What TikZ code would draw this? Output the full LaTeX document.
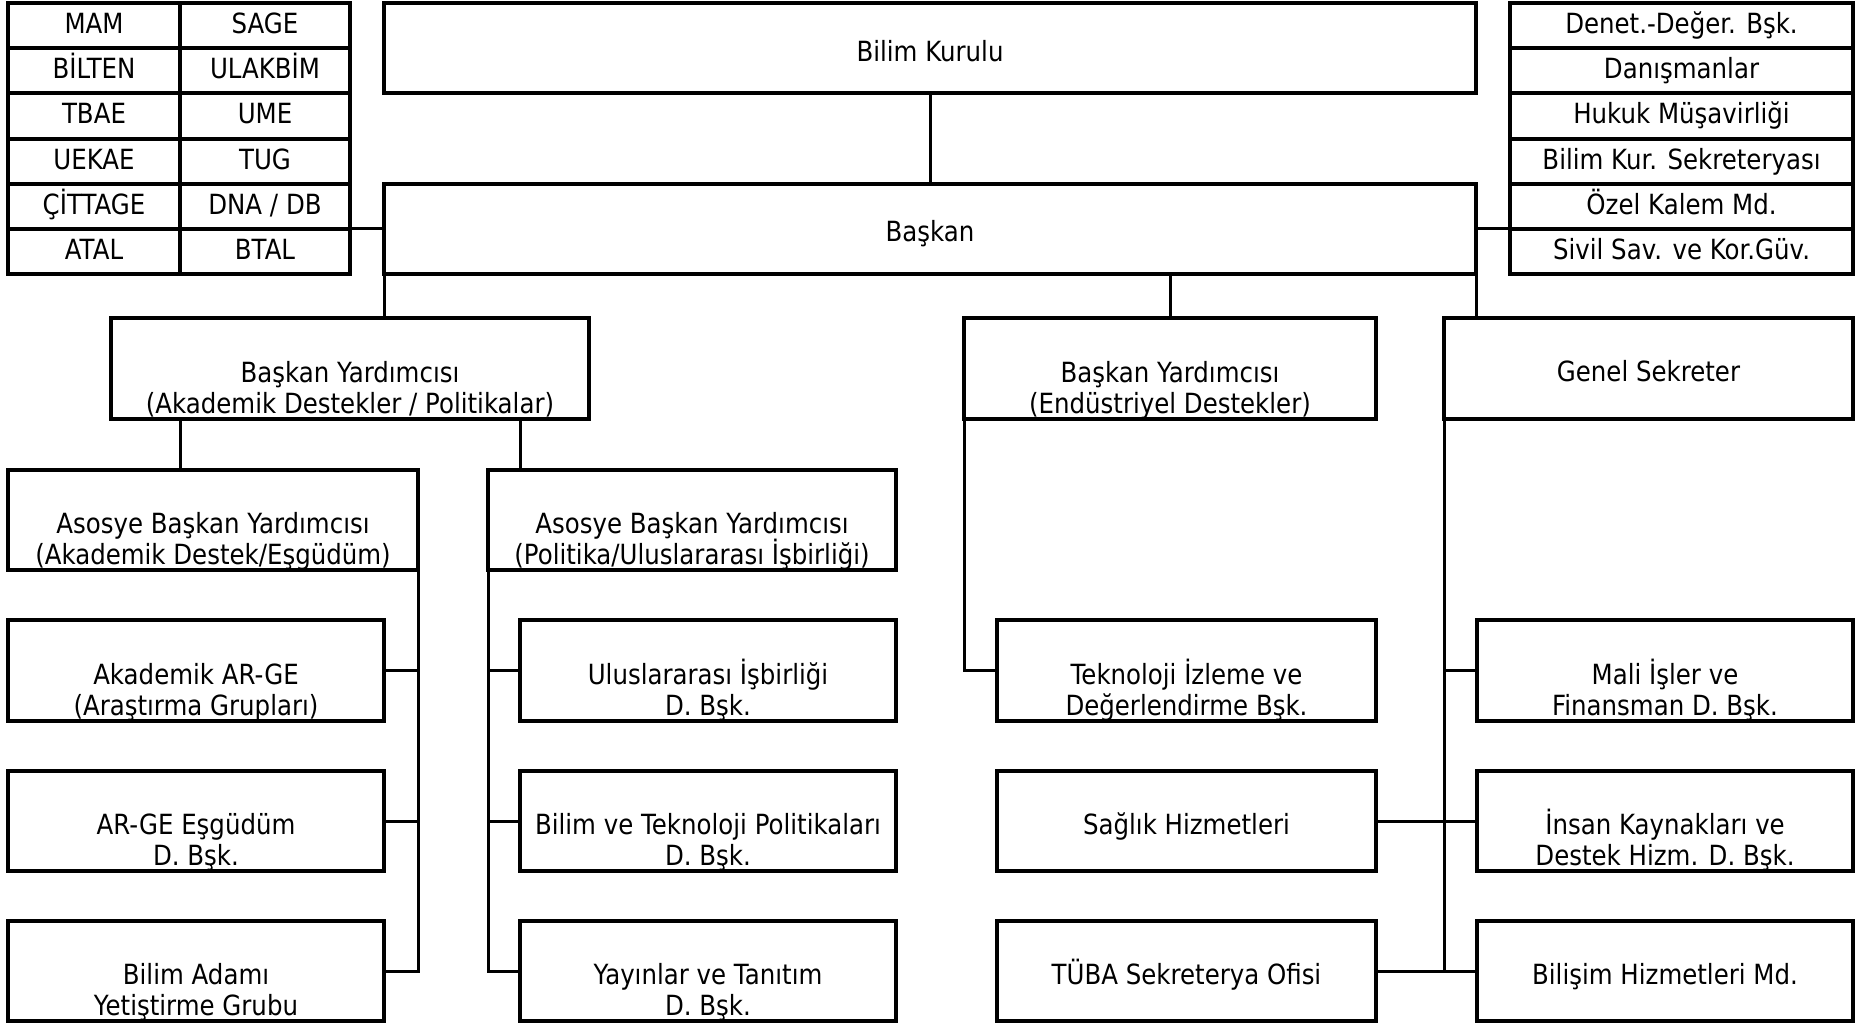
\documentclass[tikz,border=0pt]{standalone}
\usepackage{fontspec}
\setmainfont{DejaVu Sans}[FakeStretch=0.88]
\tikzset{
  bx/.style={draw, rectangle, line width=4pt, inner sep=0pt, outer sep=0pt},
  tx/.style={inner sep=0pt, outer sep=0pt, anchor=base, font=\fontsize{27.8}{31}\selectfont},
  con/.style={line width=3pt},
}
% name, x1, y1, x2, y2, line1, line2
\newcommand{\orgtwo}[7]{%
  \node[bx, minimum width={#4-#2}, minimum height={#5-#3}] (#1) at ({(#2+#4)/2},{(#3+#5)/2}) {};
  \node[tx] (#1-a) at ({(#2+#4)/2},{#5-37}) {#6};
  \node[tx] (#1-b) at ({(#2+#4)/2},{#5-6}) {#7};
}
% name, x1, y1, x2, y2, baseline offset, text
\newcommand{\orgone}[7]{%
  \node[bx, minimum width={#4-#2}, minimum height={#5-#3}] (#1) at ({(#2+#4)/2},{(#3+#5)/2}) {};
  \node[tx] (#1-a) at ({(#2+#4)/2},{(#3+#5)/2+#6}) {#7};
}
\begin{document}
\begin{tikzpicture}[x=1pt,y=-1pt]
\useasboundingbox (0,0) rectangle (1860,1023);

% left table
\orgone{lt11}{8}{3}{180}{48.17}{8}{MAM}
\orgone{lt12}{180}{3}{350}{48.17}{8}{SAGE}
\orgone{lt21}{8}{48.17}{180}{93.33}{8}{BİLTEN}
\orgone{lt22}{180}{48.17}{350}{93.33}{8}{ULAKBİM}
\orgone{lt31}{8}{93.33}{180}{138.5}{8}{TBAE}
\orgone{lt32}{180}{93.33}{350}{138.5}{8}{UME}
\orgone{lt41}{8}{138.5}{180}{183.67}{8}{UEKAE}
\orgone{lt42}{180}{138.5}{350}{183.67}{8}{TUG}
\orgone{lt51}{8}{183.67}{180}{228.83}{8}{ÇİTTAGE}
\orgone{lt52}{180}{183.67}{350}{228.83}{8}{DNA / DB}
\orgone{lt61}{8}{228.83}{180}{274}{8}{ATAL}
\orgone{lt62}{180}{228.83}{350}{274}{8}{BTAL}

% right table
\orgone{rt1}{1510}{3}{1853}{48.17}{8}{Denet.-Değer. Bşk.}
\orgone{rt2}{1510}{48.17}{1853}{93.33}{8}{Danışmanlar}
\orgone{rt3}{1510}{93.33}{1853}{138.5}{8}{Hukuk Müşavirliği}
\orgone{rt4}{1510}{138.5}{1853}{183.67}{8}{Bilim Kur. Sekreteryası}
\orgone{rt5}{1510}{183.67}{1853}{228.83}{8}{Özel Kalem Md.}
\orgone{rt6}{1510}{228.83}{1853}{274}{8}{Sivil Sav. ve Kor.Güv.}

% top boxes
\orgone{bk}{384}{3}{1476}{93.33}{13}{Bilim Kurulu}
\orgone{baskan}{384}{183.67}{1476}{274}{13}{Başkan}

% second level
\orgtwo{bya}{111}{318}{589}{419}{Başkan Yardımcısı}{(Akademik Destekler / Politikalar)}
\orgtwo{bye}{964}{318}{1376}{419}{Başkan Yardımcısı}{(Endüstriyel Destekler)}
\orgone{gs}{1444}{318}{1853}{419}{13}{Genel Sekreter}

% third level
\orgtwo{as1}{8}{470}{418}{570}{Asosye Başkan Yardımcısı}{(Akademik Destek/Eşgüdüm)}
\orgtwo{as2}{488}{470}{896}{570}{Asosye Başkan Yardımcısı}{(Politika/Uluslararası İşbirliği)}

% column 1
\orgtwo{ag}{8}{620}{384}{721}{Akademik AR-GE}{(Araştırma Grupları)}
\orgtwo{eg}{8}{771}{384}{871}{AR-GE Eşgüdüm}{D. Bşk.}
\orgtwo{bag}{8}{921}{384}{1021}{Bilim Adamı}{Yetiştirme Grubu}

% column 2
\orgtwo{ui}{520}{620}{896}{721}{Uluslararası İşbirliği}{D. Bşk.}
\orgtwo{btp}{520}{771}{896}{871}{Bilim ve Teknoloji Politikaları}{D. Bşk.}
\orgtwo{yt}{520}{921}{896}{1021}{Yayınlar ve Tanıtım}{D. Bşk.}

% column 3
\orgtwo{tek}{997}{620}{1376}{721}{Teknoloji İzleme ve}{Değerlendirme Bşk.}
\orgone{sag}{997}{771}{1376}{871}{13}{Sağlık Hizmetleri}
\orgone{tuba}{997}{921}{1376}{1021}{13}{TÜBA Sekreterya Ofisi}

% column 4
\orgtwo{mali}{1477}{620}{1853}{721}{Mali İşler ve}{Finansman D. Bşk.}
\orgtwo{ik}{1477}{771}{1853}{871}{İnsan Kaynakları ve}{Destek Hizm. D. Bşk.}
\orgone{bil}{1477}{921}{1853}{1021}{13}{Bilişim Hizmetleri Md.}

% connectors
\coordinate (c1) at (180,0);
\draw[con] (bk.south) -- (baskan.north);
\draw[con] (lt62.north east) -- (lt62.north east -| baskan.west);
\draw[con] (rt6.north west) -- (rt6.north west -| baskan.east);
\draw[con] (baskan.south west) -- (baskan.south west |- bya.north);
\draw[con] (bye.north) -- (bye.north |- baskan.south);
\draw[con] (baskan.south east) -- (baskan.south east |- gs.north);
\draw[con] (bya.south -| c1) -- (as1.north -| c1);
\draw[con] (bya.south -| ui.west) -- (as2.north -| ui.west);
\draw[con] (as1.south east) -- (as1.south east |- bag.east) -- (bag.east);
\draw[con] (ag.east) -- (ag.east -| as1.east);
\draw[con] (eg.east) -- (eg.east -| as1.east);
\draw[con] (as2.south west) -- (as2.south west |- yt.west) -- (yt.west);
\draw[con] (ui.west) -- (ui.west -| as2.west);
\draw[con] (btp.west) -- (btp.west -| as2.west);
\draw[con] (bye.south west) -- (bye.south west |- tek.west) -- (tek.west);
\draw[con] (gs.south west) -- (gs.south west |- bil.west);
\draw[con] (mali.west) -- (mali.west -| gs.west);
\draw[con] (sag.east) -- (ik.west);
\draw[con] (tuba.east) -- (bil.west);
\end{tikzpicture}
\end{document}
